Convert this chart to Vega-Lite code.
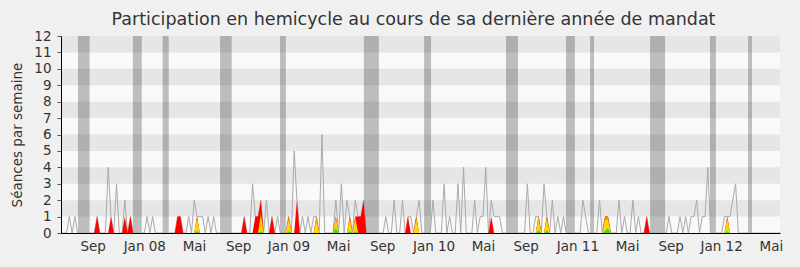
{
  "$schema": "https://vega.github.io/schema/vega-lite/v6.json",
  "width": 719,
  "height": 197,
  "autosize": {"type": "none"},
  "padding": {"left": 61, "top": 36, "right": 20, "bottom": 34},
  "background": "#f0f0f0",
  "title": {
    "text": "Participation en hemicycle au cours de sa dernière année de mandat",
    "font": "DejaVu Sans",
    "fontSize": 17.5,
    "fontWeight": "normal",
    "color": "#333333",
    "anchor": "middle",
    "frame": "group",
    "dx": -7,
    "offset": 1
  },
  "config": {
    "view": {"stroke": null, "fill": "#f9f9f9"},
    "font": "DejaVu Sans",
    "axis": {
      "labelFont": "DejaVu Sans",
      "titleFont": "DejaVu Sans",
      "labelColor": "#333333",
      "titleColor": "#333333",
      "titleFontWeight": "normal",
      "grid": false,
      "zindex": 1,
      "domainColor": "#000000",
      "domainWidth": 1,
      "labelFontSize": 13.5,
      "titleFontSize": 13.5,
      "labelOverlap": false,
      "labelBound": false,
      "labelFlush": false
    },
    "axisX": {
      "ticks": false,
      "labelPadding": 6
    },
    "axisY": {
      "tickSize": 4,
      "tickColor": "#555555",
      "labelPadding": 6,
      "titlePadding": 9
    }
  },
  "datasets": {
    "bandes": [
      {"bas": 1, "haut": 2}, {"bas": 3, "haut": 4}, {"bas": 5, "haut": 6},
      {"bas": 7, "haut": 8}, {"bas": 9, "haut": 10}, {"bas": 11, "haut": 12}
    ],
    "vacances": [
      {"debut": 6.1, "fin": 10.3}, {"debut": 25.9, "fin": 29.1}, {"debut": 36.6, "fin": 38.8},
      {"debut": 57.3, "fin": 61.5}, {"debut": 78.9, "fin": 81.0}, {"debut": 109.1, "fin": 114.5},
      {"debut": 130.8, "fin": 133.3}, {"debut": 160.3, "fin": 164.6}, {"debut": 181.9, "fin": 185.1},
      {"debut": 190.6, "fin": 192.0}, {"debut": 212.2, "fin": 217.6}, {"debut": 233.8, "fin": 235.9},
      {"debut": 247.5, "fin": 248.9}
    ],
    "semaines": [
      {"s":0,"p":0,"r":0,"o":0,"y":0,"g":0},
      {"s":1,"p":0,"r":0,"o":0,"y":0,"g":0},
      {"s":2,"p":0,"r":0,"o":0,"y":0,"g":0},
      {"s":3,"p":1,"r":0,"o":0,"y":0,"g":0},
      {"s":4,"p":0,"r":0,"o":0,"y":0,"g":0},
      {"s":5,"p":1,"r":0,"o":0,"y":0,"g":0},
      {"s":6,"p":0,"r":0,"o":0,"y":0,"g":0},
      {"s":7,"p":0,"r":0,"o":0,"y":0,"g":0},
      {"s":8,"p":0,"r":0,"o":0,"y":0,"g":0},
      {"s":9,"p":0,"r":0,"o":0,"y":0,"g":0},
      {"s":10,"p":0,"r":0,"o":0,"y":0,"g":0},
      {"s":11,"p":0,"r":0,"o":0,"y":0,"g":0},
      {"s":12,"p":0,"r":0,"o":0,"y":0,"g":0},
      {"s":13,"p":1,"r":1,"o":0,"y":0,"g":0},
      {"s":14,"p":0,"r":0,"o":0,"y":0,"g":0},
      {"s":15,"p":0,"r":0,"o":0,"y":0,"g":0},
      {"s":16,"p":0,"r":0,"o":0,"y":0,"g":0},
      {"s":17,"p":4,"r":0,"o":0,"y":0,"g":0},
      {"s":18,"p":1,"r":1,"o":0,"y":0,"g":0},
      {"s":19,"p":0,"r":0,"o":0,"y":0,"g":0},
      {"s":20,"p":3,"r":0,"o":0,"y":0,"g":0},
      {"s":21,"p":0,"r":0,"o":0,"y":0,"g":0},
      {"s":22,"p":0,"r":0,"o":0,"y":0,"g":0},
      {"s":23,"p":2,"r":1,"o":0,"y":0,"g":0},
      {"s":24,"p":0,"r":0,"o":0,"y":0,"g":0},
      {"s":25,"p":1,"r":1,"o":0,"y":0,"g":0},
      {"s":26,"p":0,"r":0,"o":0,"y":0,"g":0},
      {"s":27,"p":0,"r":0,"o":0,"y":0,"g":0},
      {"s":28,"p":0,"r":0,"o":0,"y":0,"g":0},
      {"s":29,"p":0,"r":0,"o":0,"y":0,"g":0},
      {"s":30,"p":0,"r":0,"o":0,"y":0,"g":0},
      {"s":31,"p":1,"r":0,"o":0,"y":0,"g":0},
      {"s":32,"p":0,"r":0,"o":0,"y":0,"g":0},
      {"s":33,"p":1,"r":0,"o":0,"y":0,"g":0},
      {"s":34,"p":0,"r":0,"o":0,"y":0,"g":0},
      {"s":35,"p":0,"r":0,"o":0,"y":0,"g":0},
      {"s":36,"p":0,"r":0,"o":0,"y":0,"g":0},
      {"s":37,"p":0,"r":0,"o":0,"y":0,"g":0},
      {"s":38,"p":0,"r":0,"o":0,"y":0,"g":0},
      {"s":39,"p":0,"r":0,"o":0,"y":0,"g":0},
      {"s":40,"p":0,"r":0,"o":0,"y":0,"g":0},
      {"s":41,"p":0,"r":0,"o":0,"y":0,"g":0},
      {"s":42,"p":1,"r":1,"o":0,"y":0,"g":0},
      {"s":43,"p":1,"r":1,"o":0,"y":0,"g":0},
      {"s":44,"p":0,"r":0,"o":0,"y":0,"g":0},
      {"s":45,"p":0,"r":0,"o":0,"y":0,"g":0},
      {"s":46,"p":1,"r":0,"o":0,"y":0,"g":0},
      {"s":47,"p":0,"r":0,"o":0,"y":0,"g":0},
      {"s":48,"p":2,"r":0,"o":0,"y":0,"g":0},
      {"s":49,"p":1,"r":1,"o":1,"y":0.8,"g":0.1},
      {"s":50,"p":1,"r":0,"o":0,"y":0,"g":0},
      {"s":51,"p":1,"r":0,"o":0,"y":0,"g":0},
      {"s":52,"p":0,"r":0,"o":0,"y":0,"g":0},
      {"s":53,"p":1,"r":0,"o":0,"y":0,"g":0},
      {"s":54,"p":0,"r":0,"o":0,"y":0,"g":0},
      {"s":55,"p":1,"r":0,"o":0,"y":0,"g":0},
      {"s":56,"p":0,"r":0,"o":0,"y":0,"g":0},
      {"s":57,"p":0,"r":0,"o":0,"y":0,"g":0},
      {"s":58,"p":0,"r":0,"o":0,"y":0,"g":0},
      {"s":59,"p":0,"r":0,"o":0,"y":0,"g":0},
      {"s":60,"p":0,"r":0,"o":0,"y":0,"g":0},
      {"s":61,"p":0,"r":0,"o":0,"y":0,"g":0},
      {"s":62,"p":0,"r":0,"o":0,"y":0,"g":0},
      {"s":63,"p":0,"r":0,"o":0,"y":0,"g":0},
      {"s":64,"p":0,"r":0,"o":0,"y":0,"g":0},
      {"s":65,"p":0,"r":0,"o":0,"y":0,"g":0},
      {"s":66,"p":1,"r":1,"o":0,"y":0,"g":0},
      {"s":67,"p":0,"r":0,"o":0,"y":0,"g":0},
      {"s":68,"p":0,"r":0,"o":0,"y":0,"g":0},
      {"s":69,"p":3,"r":0,"o":0,"y":0,"g":0},
      {"s":70,"p":1,"r":1,"o":0,"y":0,"g":0},
      {"s":71,"p":1,"r":1,"o":0,"y":0,"g":0},
      {"s":72,"p":2,"r":2,"o":1.2,"y":1,"g":0.1},
      {"s":73,"p":0,"r":0,"o":0,"y":0,"g":0},
      {"s":74,"p":2,"r":0,"o":0,"y":0,"g":0},
      {"s":75,"p":0,"r":0,"o":0,"y":0,"g":0},
      {"s":76,"p":1,"r":1,"o":0,"y":0,"g":0},
      {"s":77,"p":0,"r":0,"o":0,"y":0,"g":0},
      {"s":78,"p":1,"r":0,"o":0,"y":0,"g":0},
      {"s":79,"p":0,"r":0,"o":0,"y":0,"g":0},
      {"s":80,"p":0,"r":0,"o":0,"y":0,"g":0},
      {"s":81,"p":0,"r":0,"o":0,"y":0,"g":0},
      {"s":82,"p":1,"r":1,"o":1,"y":0.8,"g":0.1},
      {"s":83,"p":0,"r":0,"o":0,"y":0,"g":0},
      {"s":84,"p":5,"r":0,"o":0,"y":0,"g":0},
      {"s":85,"p":2,"r":2,"o":0,"y":0,"g":0},
      {"s":86,"p":0,"r":0,"o":0,"y":0,"g":0},
      {"s":87,"p":1,"r":0,"o":0,"y":0,"g":0},
      {"s":88,"p":0,"r":0,"o":0,"y":0,"g":0},
      {"s":89,"p":1,"r":0,"o":0,"y":0,"g":0},
      {"s":90,"p":0,"r":0,"o":0,"y":0,"g":0},
      {"s":91,"p":1,"r":0,"o":0,"y":0,"g":0},
      {"s":92,"p":1,"r":1,"o":1,"y":0.8,"g":0},
      {"s":93,"p":0,"r":0,"o":0,"y":0,"g":0},
      {"s":94,"p":6,"r":0,"o":0,"y":0,"g":0},
      {"s":95,"p":0,"r":0,"o":0,"y":0,"g":0},
      {"s":96,"p":0,"r":0,"o":0,"y":0,"g":0},
      {"s":97,"p":0,"r":0,"o":0,"y":0,"g":0},
      {"s":98,"p":0,"r":0,"o":0,"y":0,"g":0},
      {"s":99,"p":2,"r":1,"o":1,"y":0.8,"g":0.3},
      {"s":100,"p":0,"r":0,"o":0,"y":0,"g":0},
      {"s":101,"p":3,"r":0,"o":0,"y":0,"g":0},
      {"s":102,"p":0,"r":0,"o":0,"y":0,"g":0},
      {"s":103,"p":2,"r":0,"o":0,"y":0,"g":0},
      {"s":104,"p":1,"r":1,"o":1,"y":0.8,"g":0.1},
      {"s":105,"p":0,"r":0,"o":0,"y":0,"g":0},
      {"s":106,"p":2,"r":1,"o":1,"y":0.8,"g":0.1},
      {"s":107,"p":1,"r":1,"o":0,"y":0,"g":0},
      {"s":108,"p":1,"r":1,"o":0,"y":0,"g":0},
      {"s":109,"p":2,"r":2,"o":0,"y":0,"g":0},
      {"s":110,"p":0,"r":0,"o":0,"y":0,"g":0},
      {"s":111,"p":0,"r":0,"o":0,"y":0,"g":0},
      {"s":112,"p":0,"r":0,"o":0,"y":0,"g":0},
      {"s":113,"p":0,"r":0,"o":0,"y":0,"g":0},
      {"s":114,"p":0,"r":0,"o":0,"y":0,"g":0},
      {"s":115,"p":0,"r":0,"o":0,"y":0,"g":0},
      {"s":116,"p":0,"r":0,"o":0,"y":0,"g":0},
      {"s":117,"p":1,"r":0,"o":0,"y":0,"g":0},
      {"s":118,"p":0,"r":0,"o":0,"y":0,"g":0},
      {"s":119,"p":0,"r":0,"o":0,"y":0,"g":0},
      {"s":120,"p":2,"r":0,"o":0,"y":0,"g":0},
      {"s":121,"p":0,"r":0,"o":0,"y":0,"g":0},
      {"s":122,"p":0,"r":0,"o":0,"y":0,"g":0},
      {"s":123,"p":2,"r":0,"o":0,"y":0,"g":0},
      {"s":124,"p":0,"r":0,"o":0,"y":0,"g":0},
      {"s":125,"p":1,"r":1,"o":0,"y":0,"g":0},
      {"s":126,"p":1,"r":0,"o":0,"y":0,"g":0},
      {"s":127,"p":0,"r":0,"o":0,"y":0,"g":0},
      {"s":128,"p":1,"r":1,"o":1,"y":0.8,"g":0},
      {"s":129,"p":2,"r":0,"o":0,"y":0,"g":0},
      {"s":130,"p":0,"r":0,"o":0,"y":0,"g":0},
      {"s":131,"p":0,"r":0,"o":0,"y":0,"g":0},
      {"s":132,"p":0,"r":0,"o":0,"y":0,"g":0},
      {"s":133,"p":0,"r":0,"o":0,"y":0,"g":0},
      {"s":134,"p":2,"r":0,"o":0,"y":0,"g":0},
      {"s":135,"p":0,"r":0,"o":0,"y":0,"g":0},
      {"s":136,"p":0,"r":0,"o":0,"y":0,"g":0},
      {"s":137,"p":0,"r":0,"o":0,"y":0,"g":0},
      {"s":138,"p":3,"r":0,"o":0,"y":0,"g":0},
      {"s":139,"p":0,"r":0,"o":0,"y":0,"g":0},
      {"s":140,"p":1,"r":0,"o":0,"y":0,"g":0},
      {"s":141,"p":0,"r":0,"o":0,"y":0,"g":0},
      {"s":142,"p":0,"r":0,"o":0,"y":0,"g":0},
      {"s":143,"p":3,"r":0,"o":0,"y":0,"g":0},
      {"s":144,"p":0,"r":0,"o":0,"y":0,"g":0},
      {"s":145,"p":4,"r":0,"o":0,"y":0,"g":0},
      {"s":146,"p":0,"r":0,"o":0,"y":0,"g":0},
      {"s":147,"p":0,"r":0,"o":0,"y":0,"g":0},
      {"s":148,"p":0,"r":0,"o":0,"y":0,"g":0},
      {"s":149,"p":2,"r":0,"o":0,"y":0,"g":0},
      {"s":150,"p":0,"r":0,"o":0,"y":0,"g":0},
      {"s":151,"p":1,"r":0,"o":0,"y":0,"g":0},
      {"s":152,"p":1,"r":0,"o":0,"y":0,"g":0},
      {"s":153,"p":4,"r":0,"o":0,"y":0,"g":0},
      {"s":154,"p":0,"r":0,"o":0,"y":0,"g":0},
      {"s":155,"p":2,"r":1,"o":0,"y":0,"g":0},
      {"s":156,"p":1,"r":0,"o":0,"y":0,"g":0},
      {"s":157,"p":1,"r":0,"o":0,"y":0,"g":0},
      {"s":158,"p":1,"r":0,"o":0,"y":0,"g":0},
      {"s":159,"p":0,"r":0,"o":0,"y":0,"g":0},
      {"s":160,"p":0,"r":0,"o":0,"y":0,"g":0},
      {"s":161,"p":0,"r":0,"o":0,"y":0,"g":0},
      {"s":162,"p":0,"r":0,"o":0,"y":0,"g":0},
      {"s":163,"p":0,"r":0,"o":0,"y":0,"g":0},
      {"s":164,"p":0,"r":0,"o":0,"y":0,"g":0},
      {"s":165,"p":0,"r":0,"o":0,"y":0,"g":0},
      {"s":166,"p":0,"r":0,"o":0,"y":0,"g":0},
      {"s":167,"p":0,"r":0,"o":0,"y":0,"g":0},
      {"s":168,"p":3,"r":0,"o":0,"y":0,"g":0},
      {"s":169,"p":0,"r":0,"o":0,"y":0,"g":0},
      {"s":170,"p":0,"r":0,"o":0,"y":0,"g":0},
      {"s":171,"p":1,"r":0,"o":0,"y":0,"g":0},
      {"s":172,"p":1,"r":1,"o":1,"y":0.8,"g":0.15},
      {"s":173,"p":0,"r":0,"o":0,"y":0,"g":0},
      {"s":174,"p":3,"r":0,"o":0,"y":0,"g":0},
      {"s":175,"p":1,"r":1,"o":1,"y":0.8,"g":0.15},
      {"s":176,"p":0,"r":0,"o":0,"y":0,"g":0},
      {"s":177,"p":2,"r":0,"o":0,"y":0,"g":0},
      {"s":178,"p":0,"r":0,"o":0,"y":0,"g":0},
      {"s":179,"p":1,"r":0,"o":0,"y":0,"g":0},
      {"s":180,"p":0,"r":0,"o":0,"y":0,"g":0},
      {"s":181,"p":1,"r":0,"o":0,"y":0,"g":0},
      {"s":182,"p":0,"r":0,"o":0,"y":0,"g":0},
      {"s":183,"p":0,"r":0,"o":0,"y":0,"g":0},
      {"s":184,"p":0,"r":0,"o":0,"y":0,"g":0},
      {"s":185,"p":0,"r":0,"o":0,"y":0,"g":0},
      {"s":186,"p":0,"r":0,"o":0,"y":0,"g":0},
      {"s":187,"p":0,"r":0,"o":0,"y":0,"g":0},
      {"s":188,"p":2,"r":0,"o":0,"y":0,"g":0},
      {"s":189,"p":1,"r":0,"o":0,"y":0,"g":0},
      {"s":190,"p":0,"r":0,"o":0,"y":0,"g":0},
      {"s":191,"p":0,"r":0,"o":0,"y":0,"g":0},
      {"s":192,"p":0,"r":0,"o":0,"y":0,"g":0},
      {"s":193,"p":0,"r":0,"o":0,"y":0,"g":0},
      {"s":194,"p":2,"r":0,"o":0,"y":0,"g":0},
      {"s":195,"p":0,"r":0,"o":0,"y":0,"g":0},
      {"s":196,"p":1,"r":1,"o":1,"y":0.8,"g":0.1},
      {"s":197,"p":1,"r":1,"o":1,"y":0.8,"g":0.3},
      {"s":198,"p":0,"r":0,"o":0,"y":0,"g":0},
      {"s":199,"p":0,"r":0,"o":0,"y":0,"g":0},
      {"s":200,"p":0,"r":0,"o":0,"y":0,"g":0},
      {"s":201,"p":2,"r":0,"o":0,"y":0,"g":0},
      {"s":202,"p":0,"r":0,"o":0,"y":0,"g":0},
      {"s":203,"p":1,"r":0,"o":0,"y":0,"g":0},
      {"s":204,"p":0,"r":0,"o":0,"y":0,"g":0},
      {"s":205,"p":0,"r":0,"o":0,"y":0,"g":0},
      {"s":206,"p":2,"r":0,"o":0,"y":0,"g":0},
      {"s":207,"p":0,"r":0,"o":0,"y":0,"g":0},
      {"s":208,"p":1,"r":0,"o":0,"y":0,"g":0},
      {"s":209,"p":0,"r":0,"o":0,"y":0,"g":0},
      {"s":210,"p":0,"r":0,"o":0,"y":0,"g":0},
      {"s":211,"p":1,"r":1,"o":0,"y":0,"g":0},
      {"s":212,"p":0,"r":0,"o":0,"y":0,"g":0},
      {"s":213,"p":0,"r":0,"o":0,"y":0,"g":0},
      {"s":214,"p":0,"r":0,"o":0,"y":0,"g":0},
      {"s":215,"p":0,"r":0,"o":0,"y":0,"g":0},
      {"s":216,"p":0,"r":0,"o":0,"y":0,"g":0},
      {"s":217,"p":0,"r":0,"o":0,"y":0,"g":0},
      {"s":218,"p":0,"r":0,"o":0,"y":0,"g":0},
      {"s":219,"p":1,"r":0,"o":0,"y":0,"g":0},
      {"s":220,"p":0,"r":0,"o":0,"y":0,"g":0},
      {"s":221,"p":0,"r":0,"o":0,"y":0,"g":0},
      {"s":222,"p":0,"r":0,"o":0,"y":0,"g":0},
      {"s":223,"p":1,"r":0,"o":0,"y":0,"g":0},
      {"s":224,"p":0,"r":0,"o":0,"y":0,"g":0},
      {"s":225,"p":1,"r":0,"o":0,"y":0,"g":0},
      {"s":226,"p":0,"r":0,"o":0,"y":0,"g":0},
      {"s":227,"p":1,"r":0,"o":0,"y":0,"g":0},
      {"s":228,"p":1,"r":0,"o":0,"y":0,"g":0},
      {"s":229,"p":2,"r":0,"o":0,"y":0,"g":0},
      {"s":230,"p":0,"r":0,"o":0,"y":0,"g":0},
      {"s":231,"p":1,"r":0,"o":0,"y":0,"g":0},
      {"s":232,"p":1,"r":0,"o":0,"y":0,"g":0},
      {"s":233,"p":4,"r":0,"o":0,"y":0,"g":0},
      {"s":234,"p":0,"r":0,"o":0,"y":0,"g":0},
      {"s":235,"p":0,"r":0,"o":0,"y":0,"g":0},
      {"s":236,"p":0,"r":0,"o":0,"y":0,"g":0},
      {"s":237,"p":0,"r":0,"o":0,"y":0,"g":0},
      {"s":238,"p":0,"r":0,"o":0,"y":0,"g":0},
      {"s":239,"p":1,"r":0,"o":0,"y":0,"g":0},
      {"s":240,"p":1,"r":1,"o":1,"y":0.8,"g":0.1},
      {"s":241,"p":1,"r":0,"o":0,"y":0,"g":0},
      {"s":242,"p":2,"r":0,"o":0,"y":0,"g":0},
      {"s":243,"p":3,"r":0,"o":0,"y":0,"g":0},
      {"s":244,"p":0,"r":0,"o":0,"y":0,"g":0},
      {"s":245,"p":0,"r":0,"o":0,"y":0,"g":0},
      {"s":246,"p":0,"r":0,"o":0,"y":0,"g":0},
      {"s":247,"p":0,"r":0,"o":0,"y":0,"g":0},
      {"s":248,"p":0,"r":0,"o":0,"y":0,"g":0},
      {"s":249,"p":0,"r":0,"o":0,"y":0,"g":0},
      {"s":250,"p":0,"r":0,"o":0,"y":0,"g":0},
      {"s":251,"p":0,"r":0,"o":0,"y":0,"g":0},
      {"s":252,"p":0,"r":0,"o":0,"y":0,"g":0},
      {"s":253,"p":0,"r":0,"o":0,"y":0,"g":0},
      {"s":254,"p":0,"r":0,"o":0,"y":0,"g":0},
      {"s":255,"p":0,"r":0,"o":0,"y":0,"g":0},
      {"s":256,"p":0,"r":0,"o":0,"y":0,"g":0},
      {"s":257,"p":0,"r":0,"o":0,"y":0,"g":0},
      {"s":258,"p":0,"r":0,"o":0,"y":0,"g":0},
      {"s":259,"p":0,"r":0,"o":0,"y":0,"g":0}
    ]
  },
  "layer": [
    {
      "data": {"name": "bandes"},
      "mark": {"type": "rect", "color": "#e6e6e6"},
      "encoding": {
        "x": {
          "datum": 0, "type": "quantitative",
          "scale": {"domain": [0, 259], "nice": false, "zero": false},
          "axis": {
            "title": null,
            "zindex": 1,
            "tickCount": 30,
            "values": [11.4, 30, 47.9, 63.8, 81.9, 99.8, 115.7, 134.2, 152, 167.4, 186, 203.9, 219.6, 237.8, 255.7],
            "labelExpr": "['Sep','Jan 08','Mai','Sep','Jan 09','Mai','Sep','Jan 10','Mai','Sep','Jan 11','Mai','Sep','Jan 12','Mai'][indexof([11.4, 30, 47.9, 63.8, 81.9, 99.8, 115.7, 134.2, 152, 167.4, 186, 203.9, 219.6, 237.8, 255.7], datum.value)]"
          }
        },
        "x2": {"datum": 259},
        "y": {
          "field": "bas", "type": "quantitative",
          "scale": {"domain": [0, 12], "nice": false},
          "axis": {
            "title": "Séances par semaine",
            "zindex": 1,
            "tickCount": 30,
            "values": [0, 1, 2, 3, 4, 5, 6, 7, 8, 9, 10, 11, 12],
            "labelOverlap": false,
            "format": "d"
          }
        },
        "y2": {"field": "haut"}
      }
    },
    {
      "data": {"name": "vacances"},
      "mark": {"type": "rect", "color": "#000000", "opacity": 0.24},
      "encoding": {
        "x": {"field": "debut", "type": "quantitative"},
        "x2": {"field": "fin"},
        "y": {"datum": 0, "type": "quantitative"},
        "y2": {"datum": 12}
      }
    },
    {
      "data": {"name": "semaines"},
      "mark": {"type": "line", "color": "#aaaaaa", "strokeWidth": 1},
      "encoding": {
        "x": {"field": "s", "type": "quantitative"},
        "y": {"field": "p", "type": "quantitative"}
      }
    },
    {
      "data": {"name": "semaines"},
      "mark": {"type": "area", "color": "#ff0000"},
      "encoding": {
        "x": {"field": "s", "type": "quantitative"},
        "y": {"field": "r", "type": "quantitative", "stack": null}
      }
    },
    {
      "data": {"name": "semaines"},
      "mark": {"type": "area", "color": "#ff8c00"},
      "encoding": {
        "x": {"field": "s", "type": "quantitative"},
        "y": {"field": "o", "type": "quantitative", "stack": null}
      }
    },
    {
      "data": {"name": "semaines"},
      "mark": {"type": "area", "color": "#ffd700"},
      "encoding": {
        "x": {"field": "s", "type": "quantitative"},
        "y": {"field": "y", "type": "quantitative", "stack": null}
      }
    },
    {
      "data": {"name": "semaines"},
      "mark": {"type": "area", "color": "#33dd33"},
      "encoding": {
        "x": {"field": "s", "type": "quantitative"},
        "y": {"field": "g", "type": "quantitative", "stack": null}
      }
    },
    {
      "mark": {"type": "rule", "color": "#000000", "strokeDash": [1, 1], "strokeWidth": 1},
      "encoding": {"y": {"datum": 12, "type": "quantitative"}}
    }
  ]
}
